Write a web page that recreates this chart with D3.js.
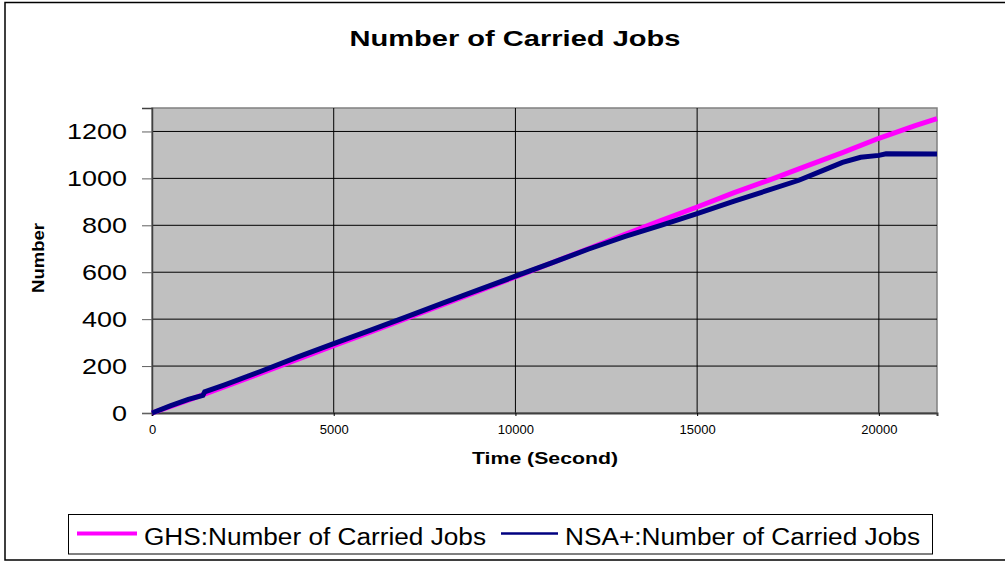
<!DOCTYPE html>
<html>
<head>
<meta charset="utf-8">
<script src="https://cdn.jsdelivr.net/npm/d3@7"></script>
<style>
  body { margin: 0; background: #ffffff; }
  text { font-family: "Liberation Sans", Arial, sans-serif; fill: #000000; }
</style>
</head>
<body>
<script>
'use strict';

// series: time in seconds and number of carried jobs
const ghsTime = [0, 1000, 2000, 3000, 4000, 5000, 6000, 7000, 8000, 9000, 10000, 11000,
  12000, 13000, 14000, 15000, 16000, 17000, 18000, 19000, 20000, 21000, 21600];
const ghsJobs = [0, 55, 112, 170, 228, 287, 345, 403, 462, 520, 580, 640,
  700, 760, 820, 878, 938, 994, 1052, 1110, 1171, 1225, 1255];

const nsaTime = [0, 500, 1000, 1400, 1450, 2000, 3000, 4000, 5000, 6000, 7000, 8000, 9000,
  10000, 11000, 12000, 13000, 14000, 15000, 16000, 17000, 17800, 18500, 19000, 19500,
  20000, 20200, 21600];
const nsaJobs = [0, 30, 58, 75, 90, 120, 178, 238, 296, 352, 410, 468, 526,
  583, 640, 698, 752, 800, 850, 902, 952, 992, 1036, 1068, 1090,
  1098, 1105, 1104];

const xTicks = [0, 5000, 10000, 15000, 20000];
const yTicks = [0, 200, 400, 600, 800, 1000, 1200];

const seriesNames = ["GHS:Number of Carried Jobs", "NSA+:Number of Carried Jobs"];
const seriesColors = ["#ff00ff", "#000080"];

const m = {
  width: 1005,
  height: 561,
  left: 152,
  right: 937,
  top: 108,
  bottom: 413
}

let svg = d3.select('body')
  .append('svg')
  .attr('width', m.width)
  .attr('height', m.height);

// outer chart border (top, left, bottom)
svg.append('path')
  .attr('d', 'M1005,2.5 H5 V560 H1005')
  .attr('fill', 'none')
  .attr('stroke', '#000000')
  .attr('stroke-width', 1.5);

let xScale = d3.scaleLinear()
  .domain([0, 21600])
  .range([m.left, m.right]);

let yScale = d3.scaleLinear()
  .domain([0, 1300])
  .range([m.bottom, m.top]);

// gray plot area
svg.append('rect')
  .attr('x', m.left)
  .attr('y', m.top)
  .attr('width', m.right - m.left)
  .attr('height', m.bottom - m.top)
  .attr('fill', '#c0c0c0')
  .attr('stroke', '#808080')
  .attr('stroke-width', 1.5);

// gridlines
svg.selectAll('.hgrid')
  .data(yTicks.filter((d) => d > 0))
  .enter()
  .append('line')
  .attr('x1', m.left)
  .attr('x2', m.right)
  .attr('y1', (d) => yScale(d))
  .attr('y2', (d) => yScale(d))
  .attr('stroke', '#000000')
  .attr('stroke-width', 1);

svg.selectAll('.vgrid')
  .data(xTicks.filter((d) => d > 0))
  .enter()
  .append('line')
  .attr('x1', (d) => xScale(d))
  .attr('x2', (d) => xScale(d))
  .attr('y1', m.top)
  .attr('y2', m.bottom)
  .attr('stroke', '#000000')
  .attr('stroke-width', 1);

// y axis
let yAxis = d3.axisLeft(yScale)
  .tickValues(yTicks)
  .tickSize(10)
  .tickPadding(15)
  .tickFormat(d3.format('d'));
let gy = svg.append('g')
  .attr('transform', 'translate(' + m.left + ', 0)')
  .call(yAxis);
gy.select('.domain').attr('stroke', '#404040').attr('stroke-width', 1.5);
gy.selectAll('.tick line').attr('stroke', '#606060');
gy.selectAll('.tick text')
  .attr('font-size', '22px')
  .attr('font-family', '"Liberation Sans", Arial, sans-serif')
  .attr('textLength', (d) => String(d).length * 15)
  .attr('lengthAdjust', 'spacingAndGlyphs');

// x axis
let xAxis = d3.axisBottom(xScale)
  .tickValues(xTicks)
  .tickSize(3)
  .tickPadding(9)
  .tickFormat(d3.format('d'));
let gx = svg.append('g')
  .attr('transform', 'translate(0, ' + m.bottom + ')')
  .call(xAxis);
gx.select('.domain').attr('stroke', '#404040').attr('stroke-width', 2);
gx.selectAll('.tick line').attr('stroke', '#000000');
gx.selectAll('.tick text')
  .attr('font-size', '13px')
  .attr('font-family', '"Liberation Sans", Arial, sans-serif');

// lines
let line = d3.line()
  .x((d) => xScale(d[0]))
  .y((d) => yScale(d[1]));

const ghsData = ghsTime.map((t, i) => [t, ghsJobs[i]]);
const nsaData = nsaTime.map((t, i) => [t, nsaJobs[i]]);

svg.append('path')
  .datum(ghsData)
  .attr('d', line)
  .attr('fill', 'none')
  .attr('stroke', seriesColors[0])
  .attr('stroke-width', 5);

svg.append('path')
  .datum(nsaData)
  .attr('d', line)
  .attr('fill', 'none')
  .attr('stroke', seriesColors[1])
  .attr('stroke-width', 5);

// title and axis labels
svg.append('text')
  .attr('x', 515)
  .attr('y', 46)
  .attr('text-anchor', 'middle')
  .attr('font-size', '22px')
  .attr('font-weight', 'bold')
  .attr('textLength', 331)
  .attr('lengthAdjust', 'spacingAndGlyphs')
  .text('Number of Carried Jobs');

svg.append('text')
  .attr('transform', 'translate(44, 258)rotate(-90)')
  .attr('text-anchor', 'middle')
  .attr('font-size', '16px')
  .attr('font-weight', 'bold')
  .attr('textLength', 70)
  .attr('lengthAdjust', 'spacingAndGlyphs')
  .text('Number');

svg.append('text')
  .attr('x', 545)
  .attr('y', 464)
  .attr('text-anchor', 'middle')
  .attr('font-size', '16px')
  .attr('font-weight', 'bold')
  .attr('textLength', 146)
  .attr('lengthAdjust', 'spacingAndGlyphs')
  .text('Time (Second)');

// legend
svg.append('rect')
  .attr('x', 68.5)
  .attr('y', 514.5)
  .attr('width', 864)
  .attr('height', 39.5)
  .attr('fill', '#ffffff')
  .attr('stroke', '#000000')
  .attr('stroke-width', 1);

const legendItems = [
  {x1: 77, x2: 137, tx: 144, tw: 342, sw: 4},
  {x1: 501, x2: 558, tx: 565, tw: 355, sw: 2.5}
];

legendItems.forEach((item, i) => {
  svg.append('line')
    .attr('x1', item.x1)
    .attr('x2', item.x2)
    .attr('y1', 533.5)
    .attr('y2', 533.5)
    .attr('stroke', seriesColors[i])
    .attr('stroke-width', item.sw);
  svg.append('text')
    .attr('x', item.tx)
    .attr('y', 545)
    .attr('font-size', '23px')
    .attr('textLength', item.tw)
    .attr('lengthAdjust', 'spacingAndGlyphs')
    .text(seriesNames[i]);
});
</script>
</body>
</html>
